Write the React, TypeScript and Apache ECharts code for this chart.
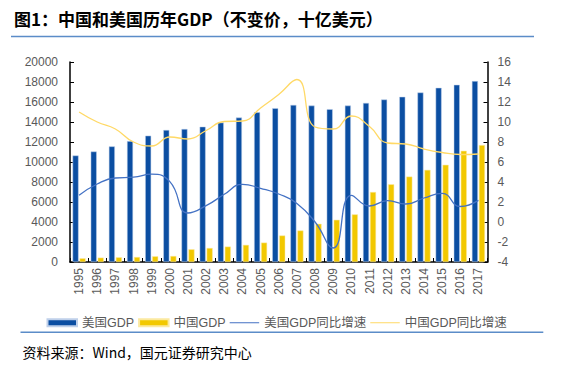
import React, { useEffect, useRef } from "react";
import * as echarts from "echarts";

const years = ["1995","1996","1997","1998","1999","2000","2001","2002","2003","2004","2005","2006","2007","2008","2009","2010","2011","2012","2013","2014","2015","2016","2017"];
const usGDP = [10650,11050,11560,12090,12630,13200,13300,13530,13940,14440,14970,15380,15710,15640,15280,15640,15910,16250,16520,16950,17420,17720,18090];
const cnGDP = [370,435,470,500,570,600,1270,1400,1540,1710,1940,2650,3150,3820,4220,4760,7000,7770,8540,9210,9720,11120,11690];
const usGrowth = [2.67,3.8,4.4,4.48,4.78,4.04,0.9,1.63,2.77,3.77,3.37,2.8,1.86,0.0,-2.6,2.67,1.6,2.13,1.8,2.4,2.87,1.55,2.16];
const cnGrowth = [11.0,10.0,9.3,8.0,7.6,8.5,8.3,9.15,10.05,10.1,11.4,12.75,14.25,9.5,9.3,10.6,9.55,7.9,7.8,7.3,6.95,6.75,6.8];
const leftTicks = { min: 0, max: 20000, interval: 2000 };
const rightTicks = { min: -4, max: 16, interval: 2 };

const labelStyle = { color: "#595959", fontSize: 12, fontFamily: "'Liberation Sans', Arial, sans-serif" };
const lineIcon = "path://M0,0 H0.01 V0.01 H0 Z M0,2.9 H30 V4.1 H0 Z M29.99,6.99 H30 V7 H29.99 Z";

export default function App() {
  const ref = useRef<HTMLDivElement>(null);
  useEffect(() => {
    const chart = echarts.init(ref.current!, undefined, { renderer: "svg" });
    chart.setOption({
      animation: false,
      backgroundColor: "#ffffff",
      grid: { left: 70, right: 89.5, top: 62, bottom: 107, containLabel: false },
      legend: {
        left: 41.5,
        top: 311.5,
        itemWidth: 29.5,
        itemHeight: 7,
        itemGap: 4,
        textStyle: { color: "#595959", fontSize: 12.5, fontFamily: "'Liberation Sans', 'Noto Sans CJK SC', sans-serif" },
        data: [
          { name: "美国GDP", icon: "rect" },
          { name: "中国GDP", icon: "rect" },
          { name: "美国GDP同比增速", icon: lineIcon },
          { name: "中国GDP同比增速", icon: lineIcon },
        ],
      },
      xAxis: {
        type: "category",
        data: years,
        axisLine: { lineStyle: { color: "#000000", width: 1.5 } },
        axisTick: { show: true, inside: true, length: 4, lineStyle: { color: "#000" } },
        axisLabel: { ...labelStyle, rotate: 90, margin: 6, interval: 0 },
      },
      yAxis: [
        {
          type: "value",
          ...leftTicks,
          axisLine: { show: true, lineStyle: { color: "#000", width: 1.5 } },
          axisTick: { show: true, inside: true, length: 4, lineStyle: { color: "#000" } },
          splitLine: { show: false },
          axisLabel: { ...labelStyle, margin: 12, formatter: (v: number) => String(v) },
        },
        {
          type: "value",
          ...rightTicks,
          position: "right",
          axisLine: { show: true, lineStyle: { color: "#000", width: 1.5 } },
          axisTick: { show: true, inside: true, length: 4, lineStyle: { color: "#000" } },
          splitLine: { show: false },
          axisLabel: { ...labelStyle, margin: 10, formatter: (v: number) => String(v) },
        },
      ],
      series: [
        {
          name: "美国GDP",
          type: "bar",
          data: usGDP,
          barWidth: 6,
          barGap: "17%",
          itemStyle: { color: "#0B4EA2", borderColor: "#BFD0EA", borderWidth: 0.5 },
        },
        {
          name: "中国GDP",
          type: "bar",
          data: cnGDP,
          barWidth: 6,
          itemStyle: { color: "#F2C800", borderColor: "#FBE9A0", borderWidth: 0.5 },
        },
        {
          name: "美国GDP同比增速",
          type: "line",
          yAxisIndex: 1,
          data: usGrowth,
          smooth: 0.5,
          symbol: "none",
          lineStyle: { color: "#4472C4", width: 1.3 },
          itemStyle: { color: "#4472C4" },
        },
        {
          name: "中国GDP同比增速",
          type: "line",
          yAxisIndex: 1,
          data: cnGrowth,
          smooth: 0.5,
          symbol: "none",
          lineStyle: { color: "#FFD966", width: 1.3 },
          itemStyle: { color: "#FFD966" },
        },
      ],
      graphic: [
        {
          type: "text",
          x: 14,
          y: 18.5,
          style: {
            text: "图1：中国和美国历年GDP（不变价，十亿美元）",
            fill: "#000",
            font: "bold 17px 'Noto Sans CJK SC', sans-serif",
            verticalAlign: "middle",
          },
        },
        {
          type: "line",
          shape: { x1: 11, y1: 36.5, x2: 534, y2: 36.5 },
          style: { stroke: "#5B8CC8", lineWidth: 1.5 },
        },
        {
          type: "line",
          shape: { x1: 20.5, y1: 332.3, x2: 543.3, y2: 332.3 },
          style: { stroke: "#5B8CC8", lineWidth: 1.5 },
        },
        {
          type: "text",
          x: 22.5,
          y: 352,
          style: {
            text: "资料来源：Wind，国元证券研究中心",
            fill: "#000",
            font: "14px 'Noto Sans CJK SC', sans-serif",
            verticalAlign: "middle",
          },
        },
      ],
    });
    return () => chart.dispose();
  }, []);
  return (
    <div
      ref={ref}
      style={{ position: "absolute", left: 0, top: 0, width: 577, height: 369 }}
    />
  );
}
